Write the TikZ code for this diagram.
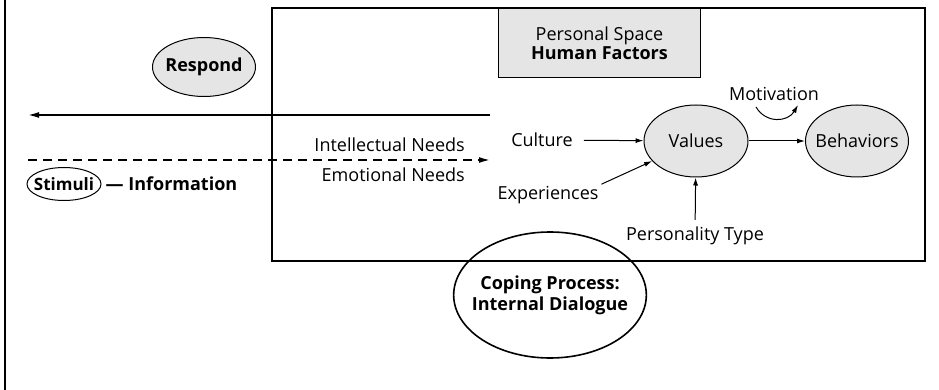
\documentclass[tikz,border=0pt]{standalone}
\usepackage{fontspec}
\setmainfont{Open Sans}
\usetikzlibrary{arrows.meta,shapes.geometric,positioning}

\begin{document}
\begin{tikzpicture}[x=1pt, y=-1pt,
  font=\fontsize{18}{21}\selectfont,
  oval/.style={draw, ellipse, inner xsep=-6pt, inner ysep=-4pt, line width=1pt},
  grey oval/.style={oval, fill=black!10},
  label text/.style={inner sep=1pt},
  bold text/.style={label text, font=\fontsize{18}{21}\selectfont\bfseries},
  edge/.style={-{Latex[length=8pt, width=5pt]}, line width=1pt},
  flow/.style={-{Latex[length=11pt, width=6pt]}, line width=1.6pt}
]
\useasboundingbox (0,0) rectangle (939,390);

% frame and personal space
\draw[line width=1.6pt] (5,0) -- (5,390);
\draw[line width=2pt] (272,8) rectangle (925,261);
\node[draw, fill=black!10, line width=1pt, minimum width=202pt, minimum height=69pt,
  align=center, anchor=north west] (space) at (498,8)
  {Personal Space\\[-2pt]\textbf{Human Factors}};

% left side
\node[grey oval, minimum width=103pt, minimum height=59pt, font=\fontsize{18}{21}\selectfont\bfseries]
  (respond) at (204,67) {Respond};
\coordinate (outstart) at (490,115);
\coordinate (outend) at (28,115);
\draw[flow] (outstart) -- (outend);

\coordinate (instart) at (28,160);
\coordinate (inend) at (490,160);
\draw[flow, dashed, dash pattern=on 9pt off 6pt] (instart) -- (inend);
\node[label text, anchor=east] (intel) at (466,145) {Intellectual Needs};
\node[label text, anchor=east] (emot) at (466,175) {Emotional Needs};

\node[oval, minimum width=74pt, minimum height=33pt, inner xsep=-4pt,
  font=\fontsize{17}{20}\selectfont\bfseries] (stimuli) at (64,184) {Stimuli};
\node[bold text, right=3pt of stimuli] (info) {--- Information};

% values
\node[grey oval, minimum width=104pt, minimum height=72pt] (values) at (696,141) {Values};
\node[grey oval, minimum width=103pt, minimum height=72pt] (behav) at (857,141) {Behaviors};
\node[label text] (culture) at (542,140) {Culture};
\node[label text] (exper) at (548,195) {Experiences};
\node[label text] (person) at (695,236) {Personality Type};
\node[label text] (motiv) at (774,94) {Motivation};

\draw[edge, shorten <=10pt] (culture) -- (values);
\draw[edge, shorten <=2pt] (exper.north east) -- (values);
\draw[edge, shorten <=6pt] (person) -- (values);
\draw[edge] (values) -- (behav);

\coordinate (mot1) at (756,107);
\coordinate (mot2) at (798,105);
\draw[edge] (mot1) .. controls (766,124) and (788,122) .. (mot2);

% coping
\node[oval, line width=1.6pt, inner xsep=-10pt, minimum width=191pt, minimum height=126pt,
  align=center, font=\fontsize{18}{21}\selectfont\bfseries] (coping) at (550,295)
  {Coping Process:\\Internal Dialogue};
\end{tikzpicture}
\end{document}
